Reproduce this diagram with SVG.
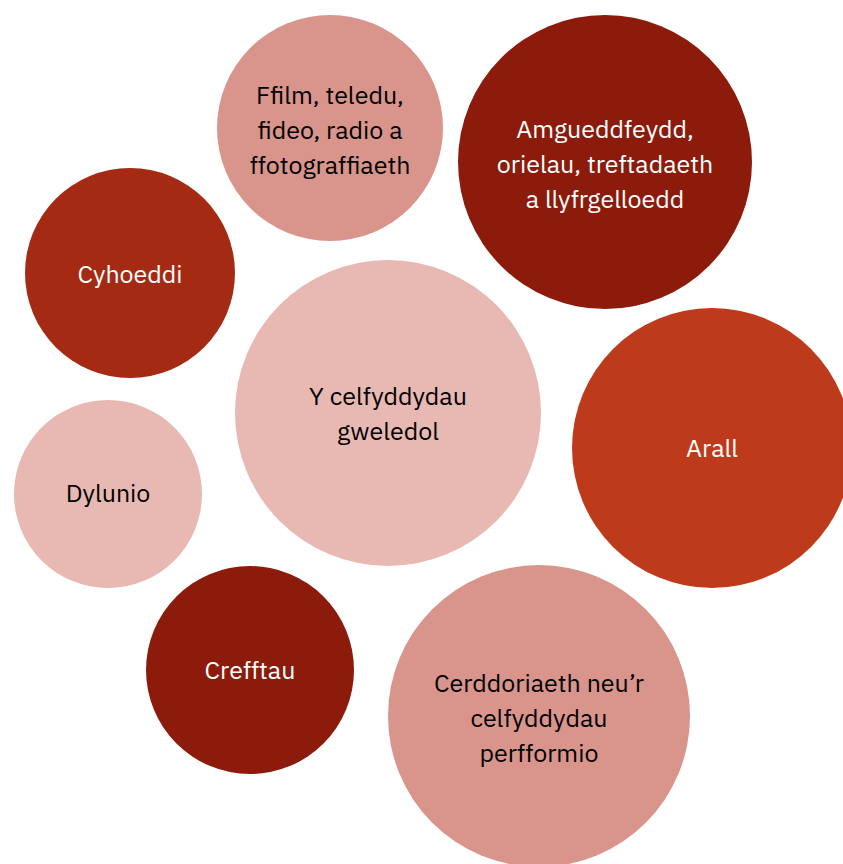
<svg xmlns="http://www.w3.org/2000/svg" width="843" height="864" viewBox="0 0 843 864">
<style>
text{font-family:"IBM Plex Sans","Noto Sans","Open Sans",sans-serif;font-size:25px;text-anchor:middle}
.lt{fill:#000}
.dk{fill:#fff}
.c1{fill:#E8B8B3}
.c2{fill:#D9948C}
.c3{fill:#8C1B0B}
.c4{fill:#A52A13}
.c5{fill:#BD3A1B}
</style>
<rect width="843" height="864" fill="#fff"/>
<g id="ffilm"><circle class="c2" cx="330" cy="128" r="113"/>
<text class="lt" x="330"><tspan x="330" y="104">Ffilm, teledu,</tspan><tspan x="330" y="139">fideo, radio a</tspan><tspan x="330" y="174">ffotograffiaeth</tspan></text></g>
<g id="amgueddfeydd"><circle class="c3" cx="605" cy="162" r="147"/>
<text class="dk" x="605"><tspan x="605" y="138">Amgueddfeydd,</tspan><tspan x="605" y="173">orielau, treftadaeth</tspan><tspan x="605" y="208">a llyfrgelloedd</tspan></text></g>
<g id="cyhoeddi"><circle class="c4" cx="130" cy="273" r="105"/>
<text class="dk" x="130" y="283">Cyhoeddi</text></g>
<g id="gweledol"><circle class="c1" cx="388" cy="413" r="153"/>
<text class="lt" x="388"><tspan x="388" y="405">Y celfyddydau</tspan><tspan x="388" y="440">gweledol</tspan></text></g>
<g id="arall"><circle class="c5" cx="712" cy="448" r="140"/>
<text class="dk" x="712" y="457">Arall</text></g>
<g id="dylunio"><circle class="c1" cx="108" cy="494" r="94"/>
<text class="lt" x="108" y="502">Dylunio</text></g>
<g id="crefftau"><circle class="c3" cx="250" cy="670" r="104"/>
<text class="dk" x="250" y="679">Crefftau</text></g>
<g id="cerddoriaeth"><circle class="c2" cx="539" cy="716" r="151"/>
<text class="lt" x="539"><tspan x="539" y="692">Cerddoriaeth neu’r</tspan><tspan x="539" y="727">celfyddydau</tspan><tspan x="539" y="762">perfformio</tspan></text></g>
<g id="connectors"/>
</svg>
